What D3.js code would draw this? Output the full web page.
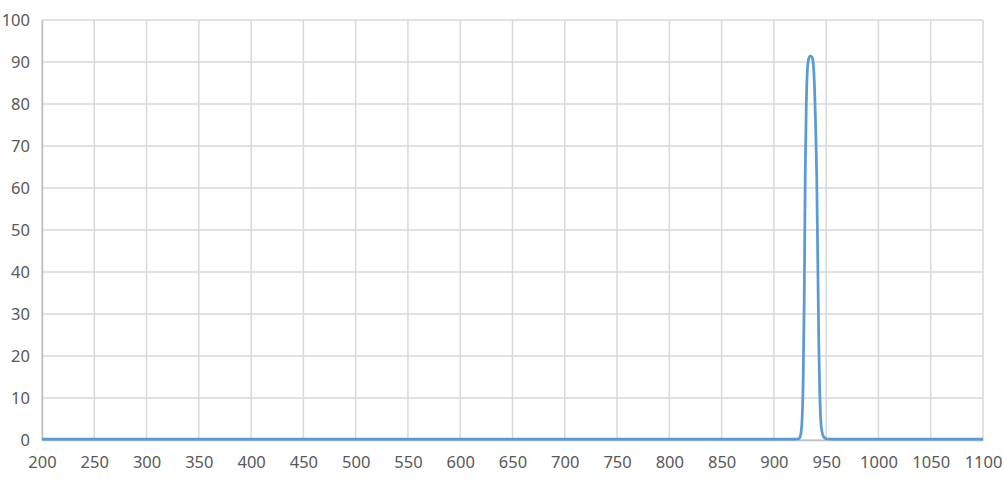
<!DOCTYPE html>
<html>
<head>
<meta charset="utf-8">
<script src="https://cdn.jsdelivr.net/npm/d3@7"></script>
<style>
  body { margin: 0; background: #fff; }
  .tick text { font-family: "Noto Sans", sans-serif; font-size: 16.5px; fill: #595959; }
</style>
</head>
<body>
<div id="chart"></div>
<script>
// transmission spectrum, wavelength (nm) vs percent
const wavelengths = [200, 300, 400, 500, 600, 700, 800, 900, 920, 924, 925, 926, 927, 928, 929, 930,
  931, 932, 933, 934, 935, 936, 937, 938, 939, 940, 941, 942, 943, 944, 945, 946, 947, 948, 950, 955, 1000, 1100];
const transmission = [0.2, 0.2, 0.2, 0.2, 0.2, 0.2, 0.2, 0.2, 0.2, 0.3, 0.7, 1.8, 5, 14, 33, 64,
  80, 88, 90.5, 91.2, 91.4, 91.3, 90.8, 88.5, 83, 74, 62, 42, 22, 10, 4, 2, 1, 0.6, 0.3, 0.2, 0.2, 0.2];
const xTicks = d3.range(200, 1101, 50);
const yTicks = d3.range(0, 101, 10);

const W = 1004, H = 479;
const margin = { top: 20, right: 21, bottom: 39, left: 42 };
const width = W - margin.left - margin.right;
const height = H - margin.top - margin.bottom;

const svg = d3.select("#chart").append("svg")
  .attr("width", W)
  .attr("height", H)
  .append("g")
  .attr("transform", "translate(" + margin.left + "," + margin.top + ")");

const x = d3.scaleLinear().domain([200, 1100]).range([0, width]);
const y = d3.scaleLinear().domain([0, 100]).range([height, 0]);

// gridlines
svg.append("g")
  .selectAll("line")
  .data(xTicks)
  .enter().append("line")
  .attr("x1", d => x(d)).attr("x2", d => x(d))
  .attr("y1", 0).attr("y2", height)
  .attr("stroke", "#d9d9d9")
  .attr("stroke-width", 1.5);

svg.append("g")
  .selectAll("line")
  .data(yTicks)
  .enter().append("line")
  .attr("x1", 0).attr("x2", width)
  .attr("y1", d => y(d)).attr("y2", d => y(d))
  .attr("stroke", "#d9d9d9")
  .attr("stroke-width", 1.5);

// axes
const xAxis = svg.append("g")
  .attr("transform", "translate(0," + height + ")")
  .call(d3.axisBottom(x).tickValues(xTicks).tickFormat(d3.format("d")).tickSize(0).tickPadding(16));
xAxis.select(".domain").attr("stroke", "#bfbfbf").attr("stroke-width", 1.5);

const yAxis = svg.append("g")
  .call(d3.axisLeft(y).tickValues(yTicks).tickFormat(d3.format("d")).tickSize(0).tickPadding(12));
yAxis.select(".domain").attr("stroke", "#bfbfbf").attr("stroke-width", 1.5);

// the line
const line = d3.line()
  .x((d, i) => x(wavelengths[i]))
  .y(d => y(d))
  .curve(d3.curveMonotoneX);

svg.append("path")
  .datum(transmission)
  .attr("fill", "none")
  .attr("stroke", "#5b9bd5")
  .attr("stroke-width", 2.75)
  .attr("stroke-linejoin", "round")
  .attr("d", line);
</script>
</body>
</html>
